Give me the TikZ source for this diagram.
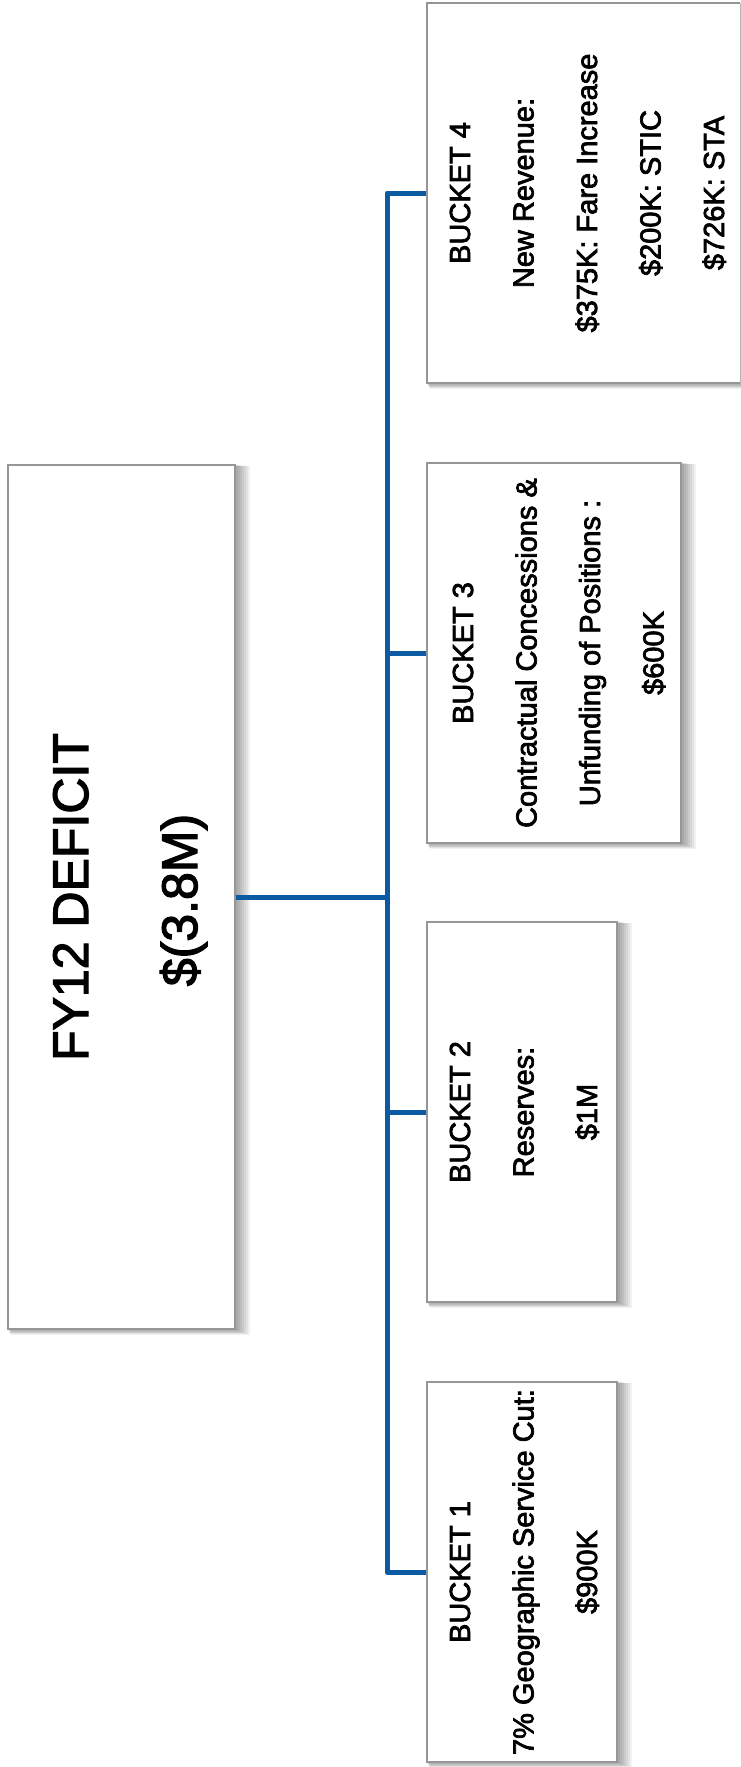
\documentclass[tikz,border=0pt]{standalone}
\usepackage{fontspec}
\setmainfont{Liberation Sans}
\newfontfamily\heavyfont[FakeBold=2.5]{Liberation Sans}
\usetikzlibrary{calc}
\definecolor{connblue}{RGB}{12,90,162}
\definecolor{boxgray}{RGB}{150,150,150}
\pgfdeclarelayer{bg}
\pgfsetlayers{bg,main}
\tikzset{
  box/.style={draw=boxgray, line width=1.4pt, fill=white, inner sep=0pt, rectangle},
  conn/.style={draw=connblue, line width=5pt, line join=round},
  btext/.style={font=\heavyfont\fontsize{29}{35}\selectfont, rotate=90, anchor=base, inner sep=0pt},
  mtext/.style={font=\heavyfont\fontsize{50}{60}\selectfont, rotate=90, anchor=base, inner sep=0pt},
}
\newcommand{\softshadow}[1]{%
  \begin{pgfonlayer}{bg}
    \foreach \k in {1,...,7}{
      \fill[black,opacity=0.055] ($(#1.north west)+(0.5*\k,0.3*\k)$) rectangle ($(#1.south east)+(2*\k,0.7*\k)$);
    }
  \end{pgfonlayer}}
\begin{document}
\begin{tikzpicture}[x=1pt,y=-1pt]
\useasboundingbox (0,0) rectangle (740,1767);
\clip (0,0) rectangle (740,1767);
\begin{pgfonlayer}{bg}
  \fill[white] (0,0) rectangle (740,1767);
\end{pgfonlayer}

% boxes
\node[box, minimum width=227pt, minimum height=864pt] (main) at (121.5,897) {};
\node[box, minimum width=333pt, minimum height=380pt] (b4) at (593.5,193) {};
\node[box, minimum width=254pt, minimum height=380pt] (b3) at (554,653) {};
\node[box, minimum width=190pt, minimum height=380pt] (b2) at (522,1112) {};
\node[box, minimum width=190pt, minimum height=380pt] (b1) at (522,1572) {};
\softshadow{main}
\softshadow{b4}
\softshadow{b3}
\softshadow{b2}
\softshadow{b1}

% main text
\node[mtext] (m1) at (88,897) {FY12 DEFICIT};
\node[mtext] (m2) at (197,900) {\$(3.8M)};

% bucket 4
\node[btext] (t41) at (470,193) {BUCKET 4};
\node[btext] (t42) at (533.5,193) {New Revenue:};
\node[btext] (t43) at (597,193) {\$375K: Fare Increase};
\node[btext] (t44) at (660.5,193) {\$200K: STIC};
\node[btext] (t45) at (724,193) {\$726K: STA};

% bucket 3
\node[btext] (t31) at (473,653) {BUCKET 3};
\node[btext] (t32) at (536.5,653) {Contractual Concessions \&};
\node[btext] (t33) at (600,653) {Unfunding of Positions :};
\node[btext] (t34) at (663.5,653) {\$600K};

% bucket 2
\node[btext] (t21) at (470,1112) {BUCKET 2};
\node[btext] (t22) at (533.5,1112) {Reserves:};
\node[btext] (t23) at (597,1112) {\$1M};

% bucket 1
\node[btext] (t11) at (470,1572) {BUCKET 1};
\node[btext] (t12) at (533.5,1572) {7\% Geographic Service Cut:};
\node[btext] (t13) at (597,1572) {\$900K};

% connectors
\coordinate (jt) at (387,193);
\coordinate (jb) at (387,1572);
\draw[conn] (b4.west) -- (jt) -- (jb) -- (b1.west);
\draw[conn] (main.east) -- (main.east -| jt);
\draw[conn] (b3.west) -- (b3.west -| jt);
\draw[conn] (b2.west) -- (b2.west -| jt);
\end{tikzpicture}
\end{document}
